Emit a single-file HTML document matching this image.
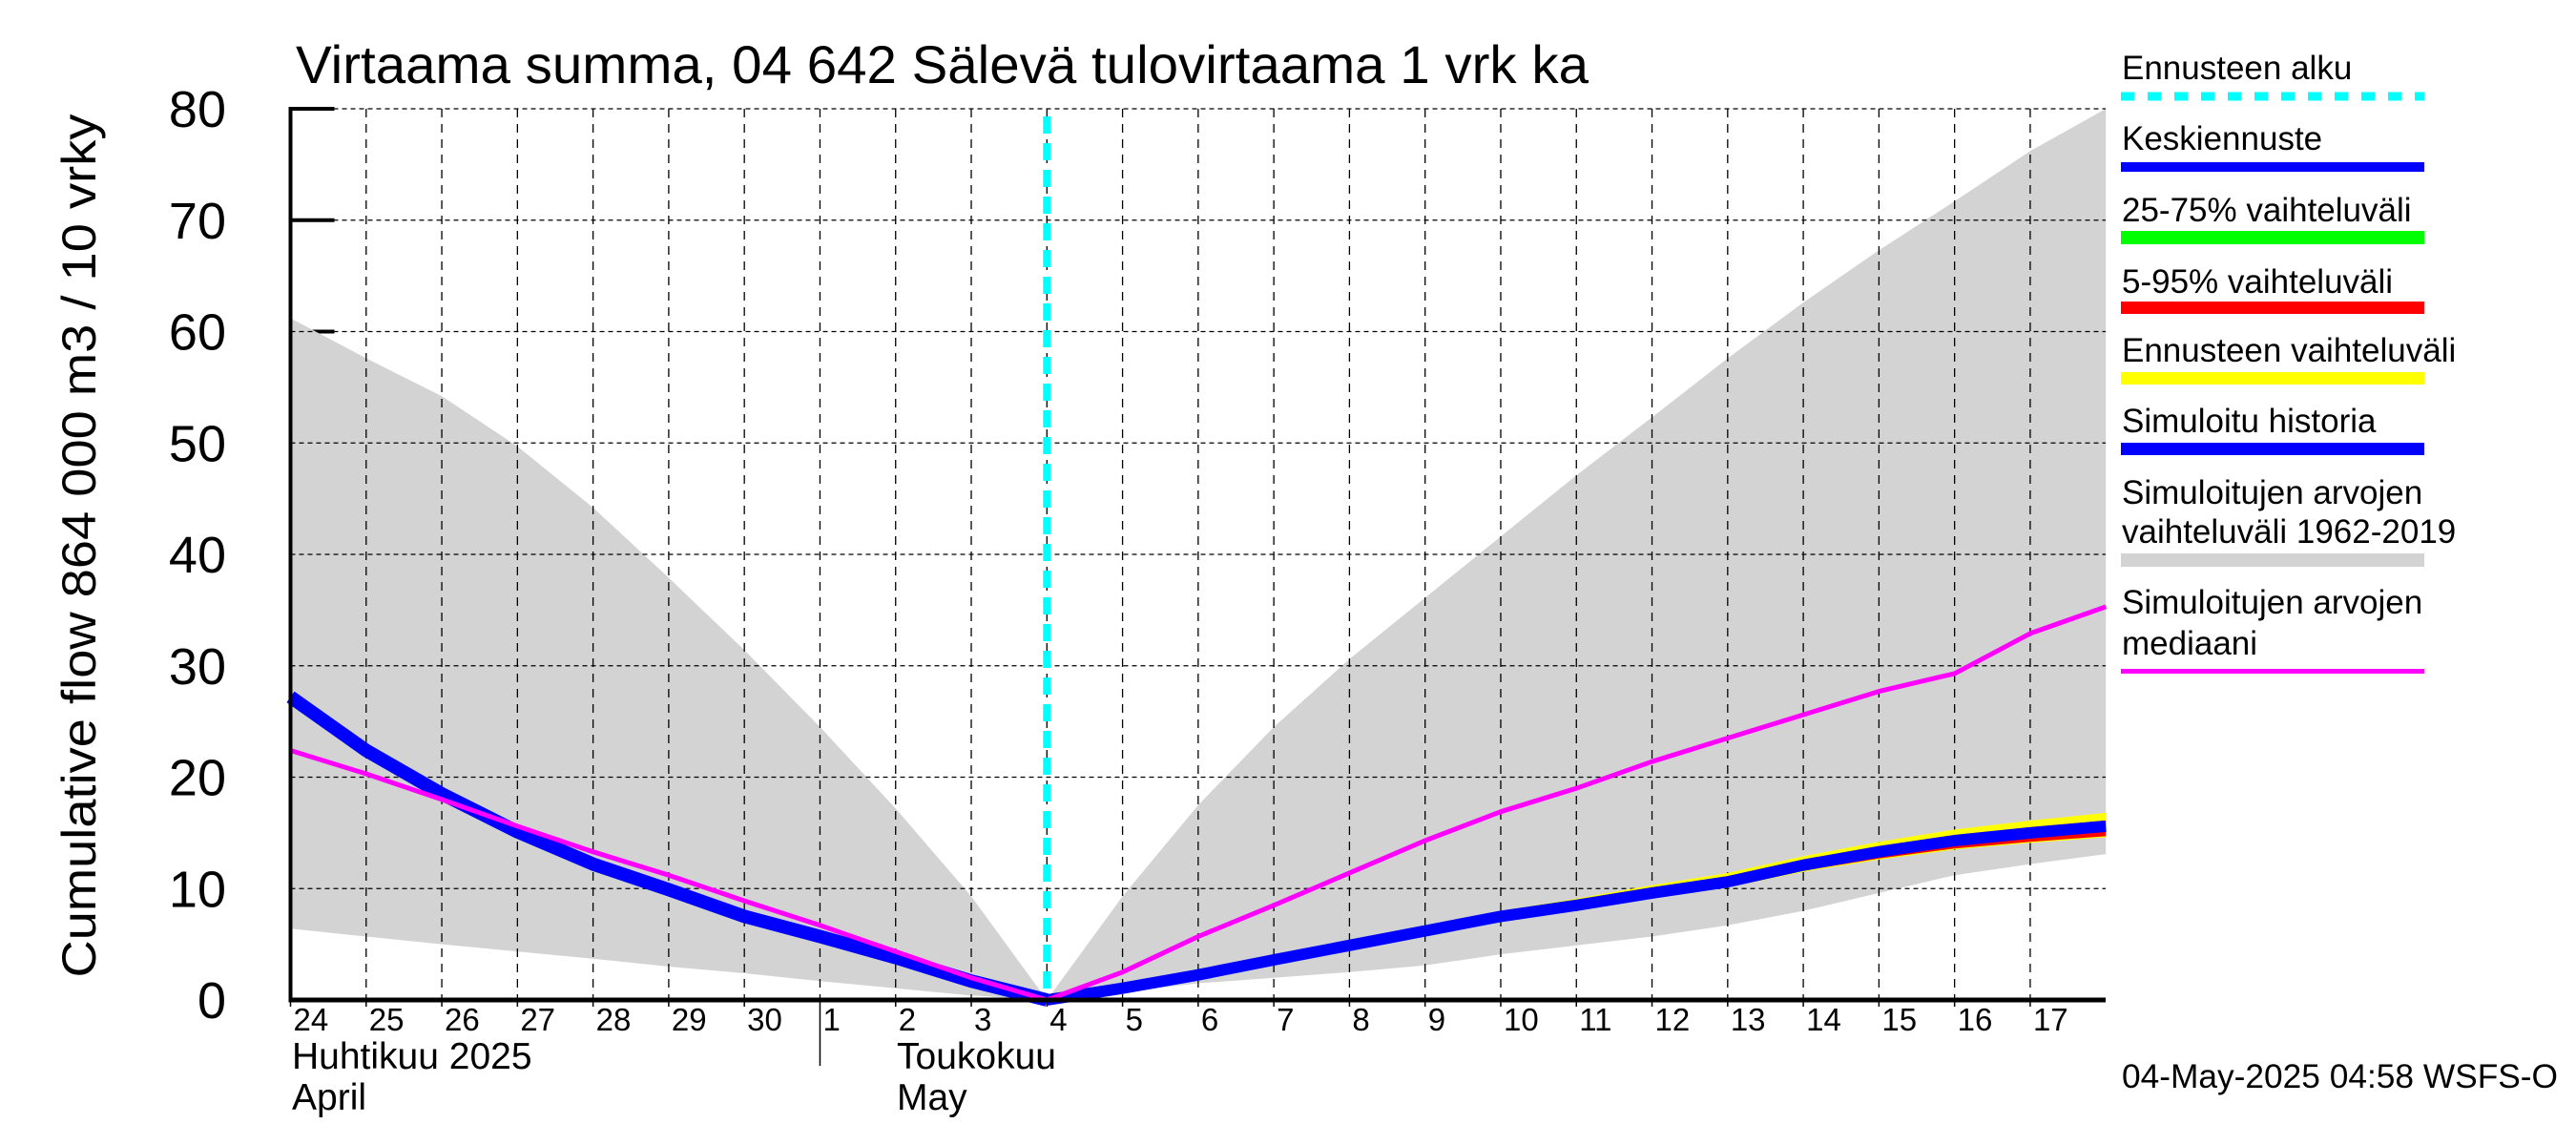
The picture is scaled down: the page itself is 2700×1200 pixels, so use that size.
<!DOCTYPE html>
<html><head><meta charset="utf-8"><style>
html,body{margin:0;padding:0;background:#fff}
svg{display:block}
text{font-family:"Liberation Sans",sans-serif;fill:#000}
</style></head><body>
<svg id="chart" width="2700" height="1200" viewBox="0 0 2700 1200" xmlns="http://www.w3.org/2000/svg">
<text x="310" y="87" font-size="56" textLength="1355" lengthAdjust="spacingAndGlyphs">Virtaama summa, 04 642 Sälevä tulovirtaama 1 vrk ka</text>
<text transform="translate(100,572) rotate(-90)" text-anchor="middle" font-size="50" textLength="905" lengthAdjust="spacingAndGlyphs">Cumulative flow     864 000 m3 / 10 vrky</text>
<g id="ticks"></g>
<g id="bands"></g>
<g id="grid"></g>
<g id="lines"></g>
<g id="axes"></g>
<g id="labels"></g>
<text x="306" y="1120" font-size="39">Huhtikuu  2025</text>
<text x="306" y="1163" font-size="39">April</text>
<text x="940" y="1120" font-size="39">Toukokuu</text>
<text x="940" y="1163" font-size="39">May</text>
<text x="2224" y="1140" font-size="35" textLength="457" lengthAdjust="spacingAndGlyphs">04-May-2025 04:58 WSFS-O</text>
<g font-size="35">
  <text x="2224" y="83">Ennusteen alku</text>
  <line x1="2223" y1="101" x2="2541" y2="101" stroke="#00ffff" stroke-width="9" stroke-dasharray="14,14"/>
  <text x="2224" y="157">Keskiennuste</text>
  <rect x="2223" y="170" width="318" height="10" fill="#0000ff"/>
  <text x="2224" y="232">25-75% vaihteluväli</text>
  <rect x="2223" y="242" width="318" height="14" fill="#00ff00"/>
  <text x="2224" y="307">5-95% vaihteluväli</text>
  <rect x="2223" y="316" width="318" height="13" fill="#ff0000"/>
  <text x="2224" y="379">Ennusteen vaihteluväli</text>
  <rect x="2223" y="390" width="318" height="13" fill="#ffff00"/>
  <text x="2224" y="453">Simuloitu historia</text>
  <rect x="2223" y="464" width="318" height="13" fill="#0000ff"/>
  <text x="2224" y="528">Simuloitujen arvojen</text>
  <text x="2224" y="569">vaihteluväli 1962-2019</text>
  <rect x="2223" y="580" width="318" height="14" fill="#d3d3d3"/>
  <text x="2224" y="643">Simuloitujen arvojen</text>
  <text x="2224" y="686">mediaani</text>
  <rect x="2223" y="701" width="318" height="5" fill="#ff00ff"/>
</g>
</svg>
<script>
// data (day index 0 = 24 Apr, forecast starts at day 10 = 4 May)
const dayLabels = ["24","25","26","27","28","29","30","1","2","3","4","5","6","7","8","9","10","11","12","13","14","15","16","17"];
const yTicks = [0,10,20,30,40,50,60,70,80];
const simMax = [61.2,57.6,54.2,49.7,44.2,37.9,31.4,24.5,17.2,9.3,0,9.3,17.5,24.5,30.6,36.1,41.6,47.1,52.3,57.6,62.6,67.3,71.7,76.2,80];
const simMin = [6.4,5.7,5.0,4.35,3.7,3.0,2.4,1.7,1.05,0.4,0,0.7,1.5,2.0,2.5,3.1,4.1,4.9,5.7,6.7,8.0,9.6,11.2,12.2,13.1];
const simMedian = [22.4,20.3,18.0,15.6,13.3,11.2,8.9,6.7,4.35,2.0,0,2.5,5.7,8.5,11.4,14.3,16.9,19.0,21.4,23.5,25.6,27.7,29.3,32.9,35.3];
const history = [27.2,22.4,18.5,15.1,12.2,9.9,7.5,5.7,3.8,1.7,0];
const fcMean = [0,1.05,2.25,3.6,4.9,6.2,7.5,8.5,9.6,10.6,12.1,13.3,14.3,15.0,15.6];
const fcMax = [0,1.2,2.5,3.9,5.3,6.7,8.0,9.1,10.3,11.4,12.9,14.2,15.3,16.1,16.8];
const fcMin = [0,0.95,2.1,3.4,4.6,5.9,7.1,8.1,9.1,10.1,11.5,12.6,13.5,14.1,14.6];
const p95 = [0,1.1,2.35,3.75,5.1,6.4,7.7,8.8,10.0,11.0,12.5,13.8,14.8,15.5,16.1];
const p5 = [0,1.0,2.15,3.5,4.7,6.0,7.2,8.2,9.2,10.2,11.6,12.7,13.6,14.2,14.7];
const p75 = [0,1.1,2.3,3.7,5.0,6.3,7.6,8.6,9.75,10.8,12.3,13.5,14.5,15.2,15.8];
const p25 = [0,1.0,2.2,3.5,4.8,6.1,7.4,8.4,9.45,10.4,11.9,13.1,14.1,14.8,15.4];
const forecastStartDay = 10;
const monthStartDay = 7;

const X0=304.5, DX=79.28, Y0=1048, YS=11.675, XR=2207;
const NS='http://www.w3.org/2000/svg';
function x(d){return X0+d*DX;}
function y(v){return Y0-v*YS;}
function mk(tag,attrs,parent){const e=document.createElementNS(NS,tag);for(const k in attrs)e.setAttribute(k,attrs[k]);document.getElementById(parent).appendChild(e);return e;}
function pts(arr,off){return arr.map((v,i)=>x(i+off).toFixed(1)+','+y(v).toFixed(1));}
function band(up,lo,off){return pts(up,off).concat(pts(lo,off).reverse()).join(' ');}

// y ticks (beneath band)
yTicks.forEach(v=>{
  const t=mk('line',{x1:X0,y1:y(v),x2:X0+46,y2:y(v),stroke:'#000','stroke-width':4},'ticks');
  
  
  const l=mk('text',{x:237,y:y(v)+19,'text-anchor':'end','font-size':54},'labels');
  
  
  l.textContent=String(v);
});

// simulated range band
const sb=mk('polygon',{points:band(simMax,simMin,0),fill:'#d3d3d3'},'bands');



// grid
yTicks.forEach(v=>{ if(v===0) return;
  const g=mk('line',{x1:X0,y1:y(v),x2:XR,y2:y(v),stroke:'#000','stroke-width':1.3,'stroke-dasharray':'5,4'},'grid');
  
  
});
dayLabels.forEach((lab,i)=>{
  if(i>0 && i!==monthStartDay){
    const g=mk('line',{x1:x(i),y1:y(80),x2:x(i),y2:Y0,stroke:'#000','stroke-width':1.3,'stroke-dasharray':'9,7'},'grid');
    
    
  }
  const tk=mk('line',{x1:x(i),y1:Y0,x2:x(i),y2:(i===monthStartDay?1117:1055),stroke:'#000','stroke-width':1.5},'axes');
  
  
  const t=mk('text',{x:x(i)+3,y:1080,'font-size':33},'labels');
  
  
  t.textContent=lab;
});
{
  const g=mk('line',{x1:x(monthStartDay),y1:y(80),x2:x(monthStartDay),y2:Y0,stroke:'#000','stroke-width':1.3,'stroke-dasharray':'9,7'},'grid');
  
  
}

// forecast bands
const fb=mk('polygon',{points:band(fcMax,fcMin,forecastStartDay),fill:'#ffff00'},'lines');


const rb=mk('polygon',{points:band(p95,p5,forecastStartDay),fill:'#ff0000'},'lines');


const gb=mk('polygon',{points:band(p75,p25,forecastStartDay),fill:'#00ff00'},'lines');



// history line
const hl=mk('polyline',{points:pts(history,0).join(' '),fill:'none',stroke:'#0000ff','stroke-width':14,'stroke-linejoin':'round'},'lines');


// forecast mean
const fl=mk('polyline',{points:pts(fcMean,forecastStartDay).join(' '),fill:'none',stroke:'#0000ff','stroke-width':12,'stroke-linejoin':'round'},'lines');


// median
const ml=mk('polyline',{points:pts(simMedian,0).join(' '),fill:'none',stroke:'#ff00ff','stroke-width':5,'stroke-linejoin':'round'},'lines');


// forecast start
const cl=mk('line',{x1:x(forecastStartDay),y1:y(80)+8,x2:x(forecastStartDay),y2:Y0,stroke:'#00ffff','stroke-width':8,'stroke-dasharray':'18,10'},'lines');



// axes
const ax=mk('line',{x1:X0,y1:y(80)-2,x2:X0,y2:Y0+2,stroke:'#000','stroke-width':4},'axes');


const bx=mk('line',{x1:X0-2,y1:Y0,x2:XR,y2:Y0,stroke:'#000','stroke-width':5},'axes');


</script>
</body></html>
